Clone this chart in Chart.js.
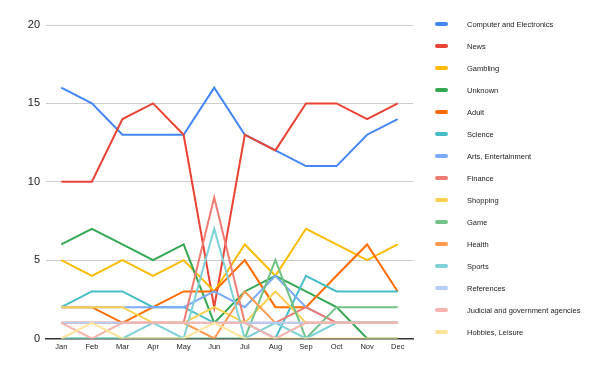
<!DOCTYPE html>
<html lang="en">
<head>
  <meta charset="UTF-8">
  <title>Monthly categories</title>
  <script src="https://cdn.jsdelivr.net/npm/chart.js"></script>
  <style>
    body {
      margin: 0;
      padding: 0;
      background: #fff;
      font-family: Arial, "Liberation Sans", sans-serif;
    }

    #wrap {
      position: relative;
      width: 600px;
      height: 371px;
    }

    #legend {
      position: absolute;
      left: 435px;
      top: 13px;
      font-size: 7.5px;
      color: #222;
    }

    .item {
      height: 22px;
      display: flex;
      align-items: center;
    }

    .swatch {
      width: 13px;
      height: 4px;
      border-radius: 2px;
      margin-right: 19px;
    }
  </style>
</head>
<body>
  <div id="wrap">
    <canvas id="myChart" width="600" height="371"></canvas>
    <div id="legend"></div>
  </div>

  <script>
    const months = ['Jan', 'Feb', 'Mar', 'Apr', 'May', 'Jun', 'Jul', 'Aug', 'Sep', 'Oct', 'Nov', 'Dec'];
    const yTicks = [0, 5, 10, 15, 20];

    const computers = [16, 15, 13, 13, 13, 16, 13, 12, 11, 11, 13, 14];
    const news = [10, 10, 14, 15, 13, 2, 13, 12, 15, 15, 14, 15];
    const gambling = [5, 4, 5, 4, 5, 3, 6, 4, 7, 6, 5, 6];
    const unknown = [6, 7, 6, 5, 6, 1, 3, 4, 3, 2, 0, 0];
    const adult = [2, 2, 1, 2, 3, 3, 5, 2, 2, 4, 6, 3];
    const science = [2, 3, 3, 2, 2, 1, 1, 0, 4, 3, 3, 3];
    const arts = [2, 2, 2, 2, 2, 3, 2, 4, 2, 1, 1, 1];
    const finance = [1, 1, 1, 1, 1, 9, 1, 1, 2, 1, 1, 1];
    const shopping = [2, 2, 2, 1, 1, 2, 1, 3, 1, 1, 1, 1];
    const game = [0, 0, 0, 0, 0, 0, 0, 5, 0, 2, 2, 2];
    const health = [1, 1, 1, 1, 1, 0, 3, 1, 1, 1, 1, 1];
    const sports = [0, 0, 0, 1, 0, 7, 0, 1, 0, 1, 1, 1];
    const references = [1, 1, 1, 1, 1, 1, 1, 1, 1, 1, 1, 1];
    const judicial = [1, 0, 1, 1, 1, 1, 1, 0, 1, 1, 1, 1];
    const hobbies = [0, 1, 0, 0, 0, 1, 0, 0, 0, 0, 0, 0];

    const seriesNames = [
      'Computer and Electronics', 'News', 'Gambling', 'Unknown', 'Adult', 'Science',
      'Arts, Entertainment', 'Finance', 'Shopping', 'Game', 'Health', 'Sports',
      'References', 'Judicial and government agencies', 'Hobbies, Leisure'
    ];
    const seriesValues = [
      computers, news, gambling, unknown, adult, science, arts, finance,
      shopping, game, health, sports, references, judicial, hobbies
    ];
    const colors = [
      '#4285F4', '#EA4335', '#FBBC04', '#34A853', '#FF6D01', '#46BDC6', '#7BAAF7', '#F07B72',
      '#FCD04F', '#71C287', '#FF994D', '#7ED1D7', '#B3CEFB', '#F7B4AE', '#FDE49B'
    ];

    // later series sit on top, like the original
    const datasets = seriesNames.map(function(name, i) {
      return {
        label: name,
        data: seriesValues[i],
        borderColor: colors[i],
        backgroundColor: colors[i],
        borderWidth: 2,
        pointRadius: 0,
        tension: 0,
        fill: false,
        order: seriesNames.length - i
      };
    });

    const ctx = document.getElementById('myChart').getContext('2d');
    const myChart = new Chart(ctx, {
      type: 'line',
      data: { labels: months, datasets: datasets },
      options: {
        responsive: false,
        animation: false,
        layout: { padding: { top: 25, right: 187, left: 0, bottom: 0 } },
        plugins: {
          legend: { display: false },
          tooltip: { enabled: false }
        },
        scales: {
          x: {
            offset: true,
            grid: { display: false, drawTicks: false },
            border: { display: true, color: '#333', width: 1.5 },
            ticks: {
              padding: 4,
              color: '#222',
              font: { family: 'Arial, "Liberation Sans"', size: 7.5 }
            },
            afterFit: function(scale) { scale.height = 32.5; }
          },
          y: {
            min: 0,
            max: 20,
            afterBuildTicks: function(scale) {
              scale.ticks = yTicks.map(function(v) { return { value: v }; });
            },
            grid: {
              drawTicks: false,
              color: function(c) { return c.tick && c.tick.value === 0 ? '#333' : '#ccc'; }
            },
            border: { display: false },
            ticks: {
              padding: 6,
              color: '#222',
              font: { family: 'Arial, "Liberation Sans"', size: 11 }
            },
            afterFit: function(scale) { scale.width = 46; }
          }
        }
      }
    });

    // html legend built from the chart datasets
    const legendBox = document.getElementById('legend');
    myChart.data.datasets.forEach(function(ds) {
      const item = document.createElement('div');
      item.className = 'item';
      const sw = document.createElement('span');
      sw.className = 'swatch';
      sw.style.background = ds.borderColor;
      const txt = document.createElement('span');
      txt.textContent = ds.label;
      item.appendChild(sw);
      item.appendChild(txt);
      legendBox.appendChild(item);
    });
  </script>
</body>
</html>
